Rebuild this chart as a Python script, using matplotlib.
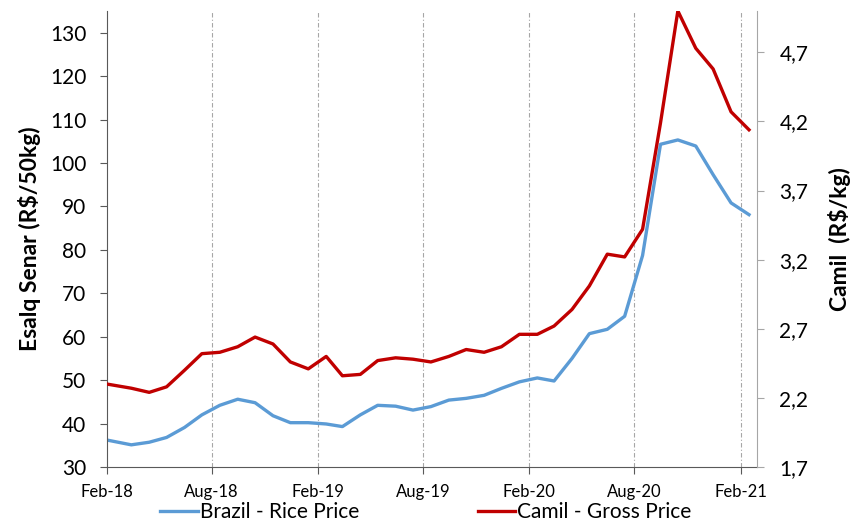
import numpy as np
import pandas as pd
import matplotlib
matplotlib.use('Agg')
import matplotlib.pyplot as plt
import matplotlib.dates as mdates

plt.rcParams['font.family'] = ['Lato', 'DejaVu Sans']

# first point at start of Feb-18, the rest mid-month
dates = [pd.Timestamp('2018-02-01')] + list(pd.date_range('2018-03-01', '2021-02-01', freq='MS') + pd.Timedelta(days=14))

rice_price = [36.2, 35.1, 35.7, 36.8, 39.1, 42.0, 44.2, 45.6, 44.8, 41.8,
              40.2, 40.2, 39.9, 39.3, 42.0, 44.2, 44.0, 43.1, 43.9, 45.4,
              45.8, 46.5, 48.1, 49.6, 50.5, 49.8, 55.0, 60.7, 61.7, 64.7,
              78.7, 104.3, 105.3, 103.9, 97.3, 90.8, 88.1]

camil_price = [2.30, 2.27, 2.24, 2.28, 2.40, 2.52, 2.53, 2.57, 2.64, 2.59,
               2.46, 2.41, 2.50, 2.36, 2.37, 2.47, 2.49, 2.48, 2.46, 2.50,
               2.55, 2.53, 2.57, 2.66, 2.66, 2.72, 2.84, 3.01, 3.24, 3.22,
               3.42, 4.19, 5.00, 4.73, 4.58, 4.27, 4.14]

left_ticks = [30, 40, 50, 60, 70, 80, 90, 100, 110, 120, 130]
right_ticks = [1.7, 2.2, 2.7, 3.2, 3.7, 4.2, 4.7]
right_labels = ['1,7', '2,2', '2,7', '3,2', '3,7', '4,2', '4,7']
x_ticks = pd.date_range('2018-02-01', '2021-02-01', freq='6MS')

blue = '#5B9BD5'
red = '#C00000'

fig = plt.figure(figsize=(8.52, 5.26), dpi=100)
ax = fig.add_axes([0.1256, 0.1122, 0.763, 0.867])
ax2 = ax.twinx()

l1, = ax.plot(dates, rice_price, color=blue, lw=2.4, solid_joinstyle='round')
l2, = ax2.plot(dates, camil_price, color=red, lw=2.4, solid_joinstyle='round')

ax.set_xlim(pd.Timestamp('2018-02-01'), pd.Timestamp('2021-03-01'))
ax.set_ylim(30, 135)
ax2.set_ylim(1.7, 5.0)

ax.set_xticks(x_ticks)
ax.xaxis.set_major_formatter(mdates.DateFormatter('%b-%y'))
for d in x_ticks[1:]:
    ax.axvline(d, color='#A6A6A6', lw=0.8, ls=(0, (4, 2, 1, 2)), zorder=0)

ax.set_yticks(left_ticks)
ax2.set_yticks(right_ticks)
ax2.set_yticklabels(right_labels)

ax.tick_params(axis='y', labelsize=15, length=5, color='#595959', pad=10)
ax.tick_params(axis='x', labelsize=12, length=5, color='#595959', pad=7)
ax2.tick_params(axis='y', labelsize=15, length=5, color='#A6A6A6', pad=11)

for s in ['top']:
    ax.spines[s].set_visible(False)
    ax2.spines[s].set_visible(False)
ax.spines['left'].set_color('#595959')
ax.spines['bottom'].set_color('#595959')
ax2.spines['left'].set_visible(False)
ax2.spines['bottom'].set_visible(False)
ax.spines['right'].set_visible(False)
ax2.spines['right'].set_color('#A6A6A6')

ax.set_ylabel('Esalq Senar (R$/50kg)', fontsize=16.5, fontweight='bold', labelpad=6)
ax2.set_ylabel('Camil  (R$/kg)', fontsize=16.5, fontweight='bold', labelpad=14)

fig.legend([l1, l2], ['Brazil - Rice Price', 'Camil - Gross Price'], loc='lower center',
           bbox_to_anchor=(0.5, -0.028), ncol=2, frameon=False, fontsize=15,
           handlelength=1.8, handletextpad=0.1, columnspacing=5.7)

fig.savefig('out.png', dpi=100)
